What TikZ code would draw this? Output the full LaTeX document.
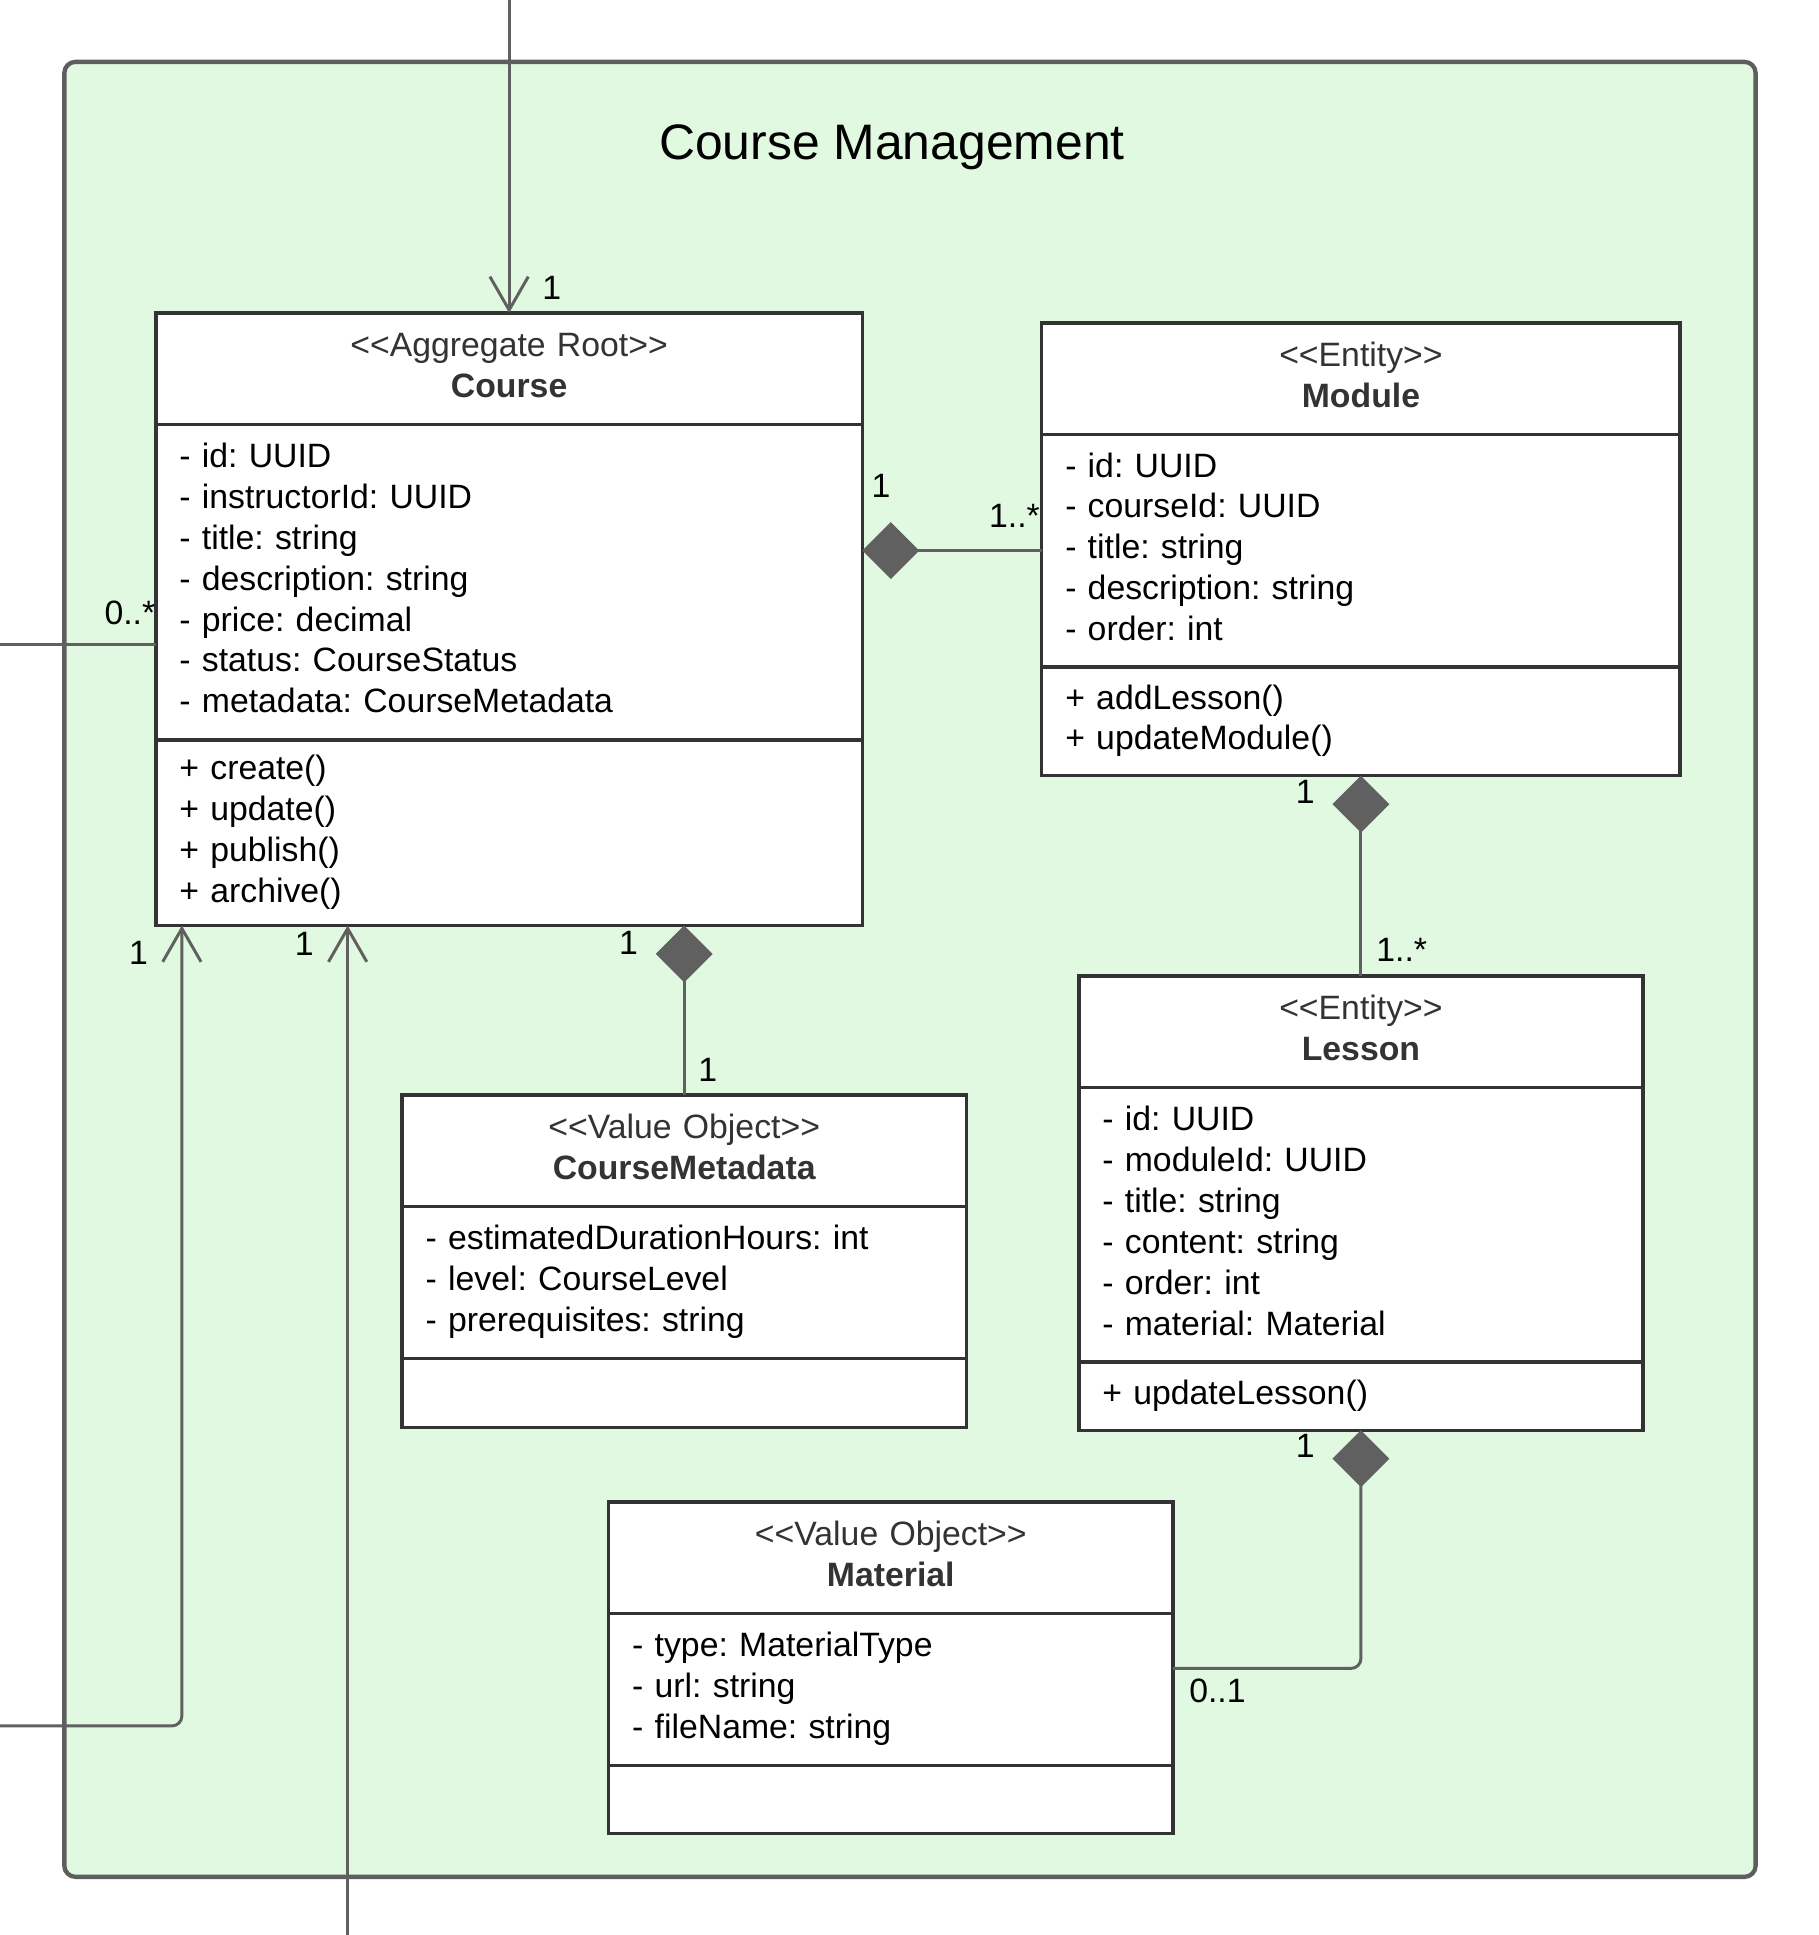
\documentclass[tikz,border=0pt]{standalone}
\usepackage{fontspec}
\newfontfamily\umlfam{Liberation Sans}
\usetikzlibrary{arrows.meta,positioning}
\definecolor{pkgfill}{RGB}{224,249,224}
\definecolor{pkgline}{RGB}{94,94,94}
\definecolor{boxline}{RGB}{51,51,51}
\definecolor{linkgray}{RGB}{96,96,96}
\definecolor{stereo}{RGB}{51,51,51}
\newcommand\umlsize{\umlfam\fontsize{27.3pt}{33pt}\selectfont\frenchspacing}
\newcommand\titlesize{\umlfam\fontsize{40.3pt}{48pt}\selectfont}

\begin{document}
\begin{tikzpicture}
    [x=1pt, y=-1pt,
     pkg/.style={draw=pkgline, fill=pkgfill, line width=3.5pt, rounded corners=9pt, outer sep=0pt, anchor=north west},
     box/.style={draw=boxline, line width=2.8pt, fill=white, inner xsep=19pt, inner ysep=0pt, outer sep=0pt, font=\umlsize, anchor=north west,
                 execute at begin node=\strut, execute at end node=\strut},
     head/.style={box, align=center, minimum height=90pt},
     attrs/.style={box, align=left},
     mult/.style={font=\umlsize, inner sep=0pt},
     link/.style={draw=linkgray, line width=2.4pt},
     assoc/.style={link, -{Straight Barb[length=27pt, width=31pt]}},
     comp/.style={link, {Diamond[length=46pt, width=46pt, fill=linkgray]}-}]
    \useasboundingbox (0,0) rectangle (1470,1564);

    \node[pkg, minimum width=1367pt, minimum height=1467pt] (pkg) at (52,50) {};
    \node[font=\titlesize] (title) at (721,119) {Course Management};

    % Course
    \node[head, text width=533pt] (courseH) at (126,253) {{\color{stereo}<<Aggregate Root>>}\\{\color{stereo}\bfseries Course}};
    \node[attrs, text width=533pt, minimum height=255pt] (courseA) at (courseH.south west) {- id: UUID\\- instructorId: UUID\\- title: string\\- description: string\\- price: decimal\\- status: CourseStatus\\- metadata: CourseMetadata};
    \node[attrs, text width=533pt, minimum height=150pt] (courseM) at (courseA.south west) {+ create()\\+ update()\\+ publish()\\+ archive()};

    % Module
    \node[head, text width=478pt] (moduleH) at (842,261) {{\color{stereo}<<Entity>>}\\{\color{stereo}\bfseries Module}};
    \node[attrs, text width=478pt, minimum height=188pt] (moduleA) at (moduleH.south west) {- id: UUID\\- courseId: UUID\\- title: string\\- description: string\\- order: int};
    \node[attrs, text width=478pt, minimum height=88pt] (moduleM) at (moduleA.south west) {+ addLesson()\\+ updateModule()};

    % Lesson
    \node[head, text width=418pt] (lessonH) at (872,789) {{\color{stereo}<<Entity>>}\\{\color{stereo}\bfseries Lesson}};
    \node[attrs, text width=418pt, minimum height=222pt] (lessonA) at (lessonH.south west) {- id: UUID\\- moduleId: UUID\\- title: string\\- content: string\\- order: int\\- material: Material};
    \node[attrs, text width=418pt, minimum height=55pt] (lessonM) at (lessonA.south west) {+ updateLesson()};

    % CourseMetadata
    \node[head, text width=418pt] (metaH) at (325,885) {{\color{stereo}<<Value Object>>}\\{\color{stereo}\bfseries CourseMetadata}};
    \node[attrs, text width=418pt, minimum height=123pt] (metaA) at (metaH.south west) {- estimatedDurationHours: int\\- level: CourseLevel\\- prerequisites: string};
    \node[attrs, text width=418pt, minimum height=56pt] (metaM) at (metaA.south west) {};

    % Material
    \node[head, text width=418pt] (matH) at (492,1214) {{\color{stereo}<<Value Object>>}\\{\color{stereo}\bfseries Material}};
    \node[attrs, text width=418pt, minimum height=123pt] (matA) at (matH.south west) {- type: MaterialType\\- url: string\\- fileName: string};
    \node[attrs, text width=418pt, minimum height=55pt] (matM) at (matA.south west) {};

    % links from outside the package
    \coordinate (northIn) at (411.5,0);
    \coordinate (westIn) at (0,521);
    \coordinate (westIn2) at (0,1395);
    \coordinate (southIn) at (281,1564);
    \draw[assoc] (northIn) -- (courseH.north);
    \draw[link] (westIn) -- (westIn -| courseA.west);
    \draw[assoc, rounded corners=8pt] (westIn2) -| ([xshift=21pt]courseM.south west);
    \draw[assoc] (southIn) -- (southIn |- courseM.south);

    % compositions
    \draw[comp] (courseA.east |- moduleA.west) -- (moduleA.west);
    \draw[comp] (metaH.north |- courseM.south) -- (metaH.north);
    \draw[comp] (moduleM.south) -- (lessonH.north);
    \draw[comp, rounded corners=8pt] (lessonM.south) |- ([yshift=17pt]matA.east);

    % multiplicities
    \node[mult] (mNorth) at (446,233) {1};
    \node[mult] (mWest) at (105,495) {0..*};
    \node[mult] (mWest2) at (112,770) {1};
    \node[mult] (mSouth) at (246,763) {1};
    \node[mult] (mCourseMod) at (712,393) {1};
    \node[mult] (mModCourse) at (820,417) {1..*};
    \node[mult] (mCourseMeta) at (508,762) {1};
    \node[mult] (mMetaCourse) at (572,865) {1};
    \node[mult] (mModLes) at (1055,640) {1};
    \node[mult] (mLesMod) at (1133,768) {1..*};
    \node[mult] (mLesMat) at (1055,1169) {1};
    \node[mult] (mMatLes) at (984,1367) {0..1};

\end{tikzpicture}
\end{document}
